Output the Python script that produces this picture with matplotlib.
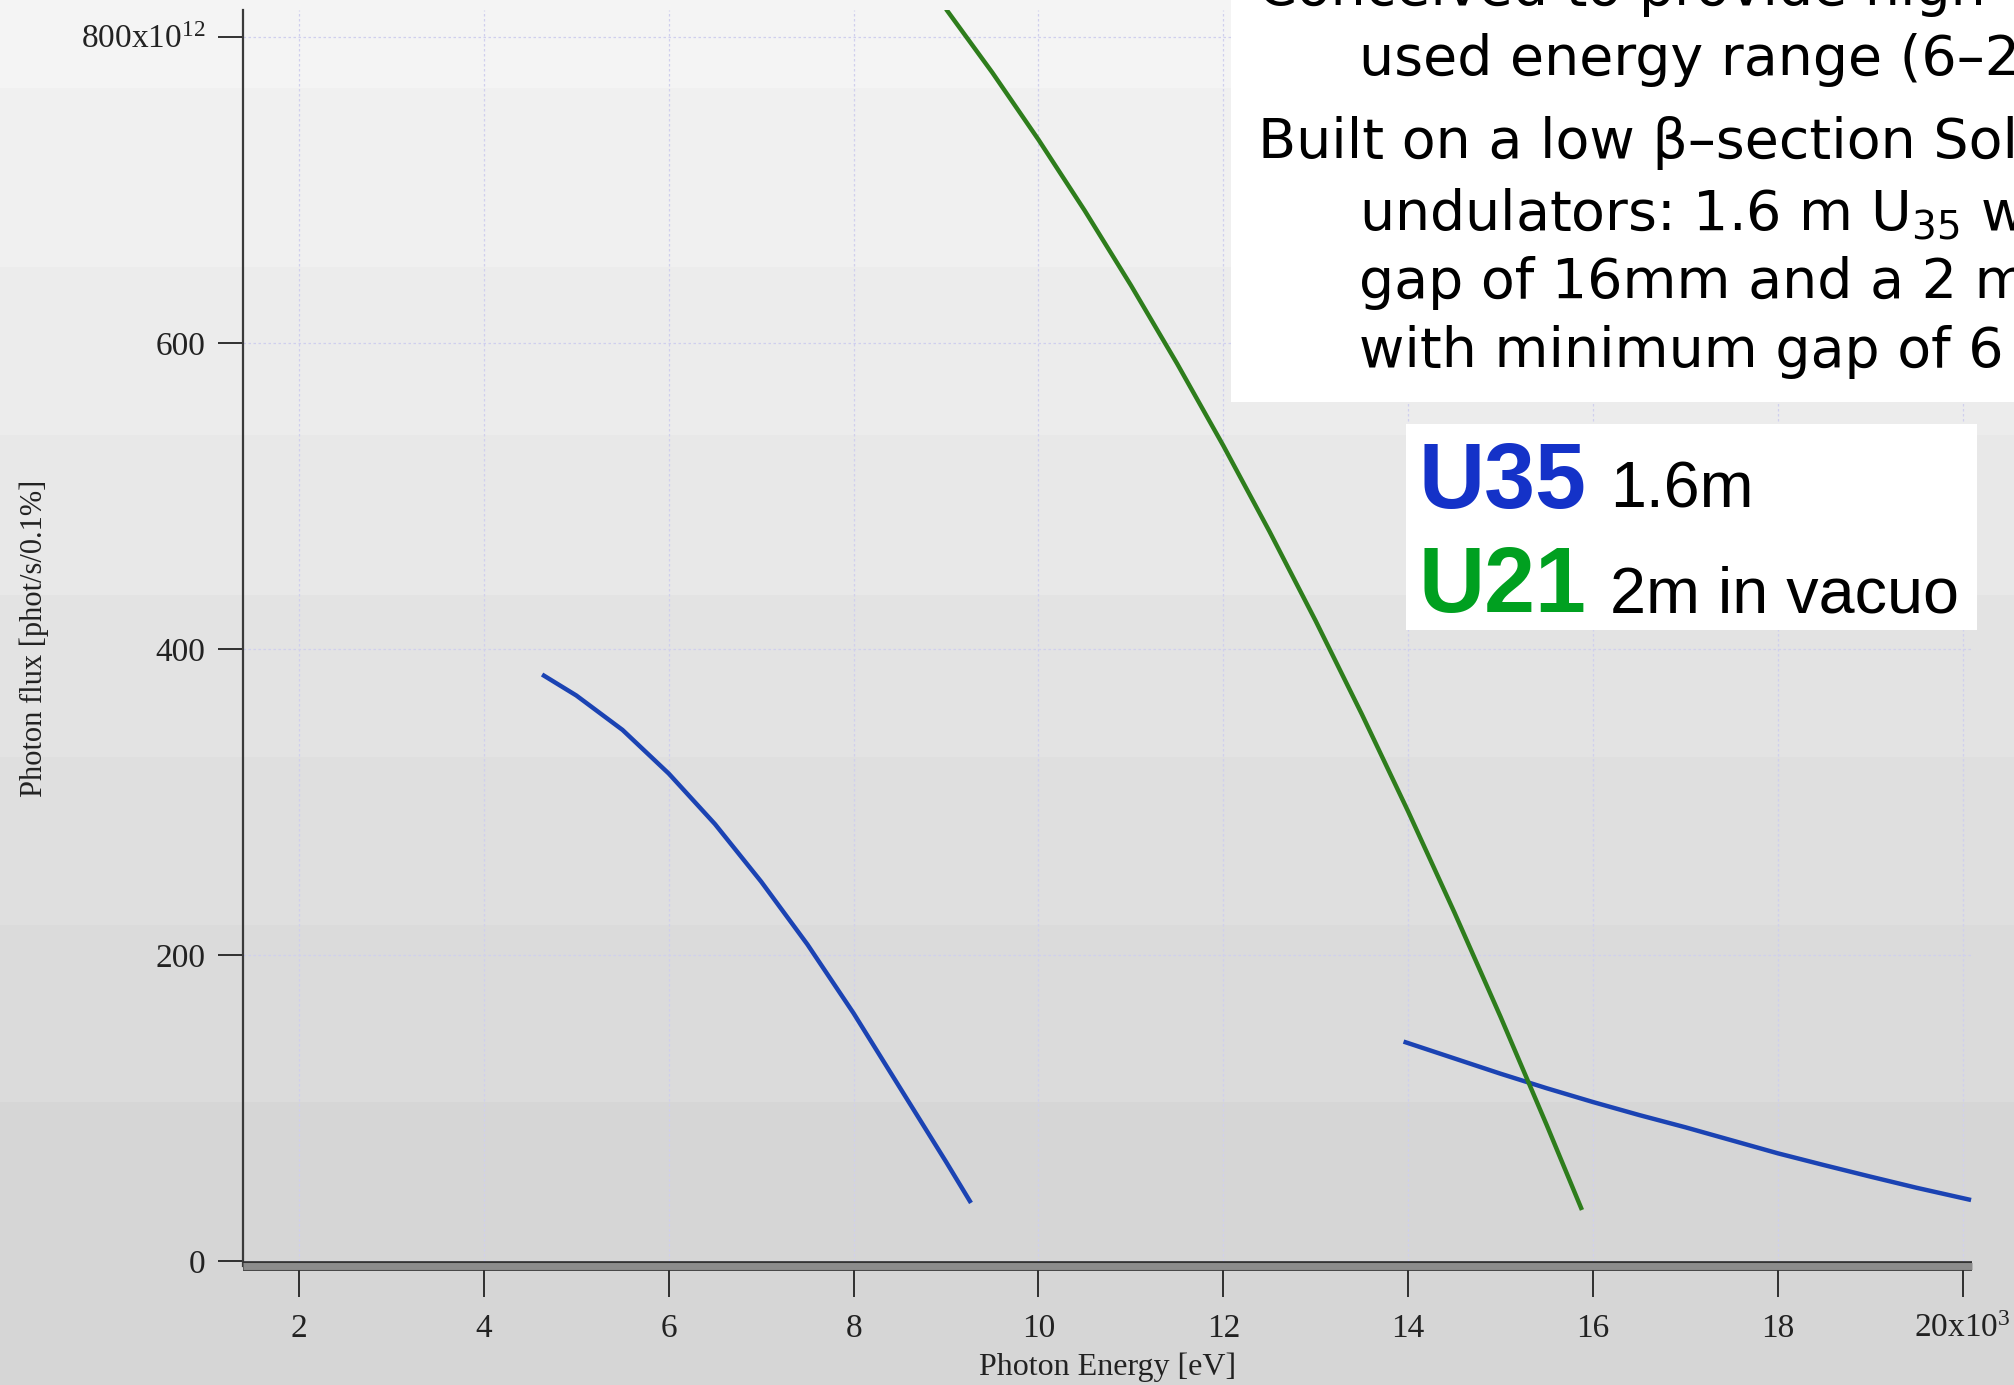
"""
Photon flux vs photon energy for the two undulators (U35 and U21),
redrawn as on the original slide.
"""
import matplotlib
matplotlib.use('Agg')
import matplotlib.pyplot as plt
import matplotlib.patheffects as pe
from matplotlib.patches import Rectangle

W, H = 2014, 1385

# --- data (x in keV, y in 1e12 phot/s/0.1%) ---
u35_low_x = [4.63, 5.0, 5.5, 6.0, 6.5, 7.0, 7.5, 8.0, 8.5, 9.0, 9.27]
u35_low_y = [383.3, 369.6, 347.1, 318.6, 285.6, 248.0, 207.0, 162.0, 113.5, 65.0, 38.1]

u35_high_x = [13.95, 14.5, 15.0, 15.5, 16.0, 16.5, 17.0, 17.5, 18.0, 18.5, 19.0, 19.5, 20.09]
u35_high_y = [143.5, 132.5, 122.5, 113.0, 104.0, 95.5, 87.5, 79.0, 70.5, 62.8, 55.3, 48.0, 40.0]

u21_x = [9.0, 9.5, 10.0, 10.5, 11.0, 11.5, 12.0, 12.5, 13.0, 13.5, 14.0, 14.5, 15.0, 15.5, 15.88]
u21_y = [818.0, 776.6, 732.7, 686.4, 637.6, 586.4, 532.8, 476.7, 418.2, 357.2, 293.8, 227.9,
         159.6, 88.8, 33.5]

x_ticks = [2, 4, 6, 8, 10, 12, 14, 16, 18, 20]
x_ticklabels = ['2', '4', '6', '8', '10', '12', '14', '16', '18', '20x10$^{3}$']
y_ticks = [0, 200, 400, 600, 800]
y_ticklabels = ['0', '200', '400', '600', '800x10$^{12}$']

# slide background bands (pixel rows from top, gray level)
band_edges = [0, 88, 267, 435, 595, 757, 925, 1102, 1385]
band_grays = [0.957, 0.941, 0.925, 0.910, 0.892, 0.875, 0.858, 0.838]

BLUE = '#1b43b3'
GREEN = '#2e7d1c'

plt.rcParams['mathtext.default'] = 'regular'


def fx(px):
    return px / W


def fy(py):
    return 1 - py / H


fig = plt.figure(figsize=(W / 100, H / 100), dpi=100)

# background
bg = fig.add_axes([0, 0, 1, 1], zorder=-10)
bg.set_xlim(0, W)
bg.set_ylim(H, 0)
bg.axis('off')
for top, bot, g in zip(band_edges[:-1], band_edges[1:], band_grays):
    bg.axhspan(top, bot, color=(g, g, g), lw=0)

# main chart
ax = fig.add_axes([fx(243), fy(1266), fx(1972) - fx(243), fy(10) - fy(1266)])
ax.set_facecolor('none')
ax.set_xlim(1.394, 20.1)
ax.set_ylim(-3.1, 817.4)

ax.plot(u35_low_x, u35_low_y, color=BLUE, lw=3.2, solid_capstyle='butt')
ax.plot(u35_high_x, u35_high_y, color=BLUE, lw=3.2, solid_capstyle='butt')
ax.plot(u21_x, u21_y, color=GREEN, lw=3.2, solid_capstyle='butt')

ax.set_xticks(x_ticks)
ax.set_xticklabels(x_ticklabels)
ax.set_yticks(y_ticks)
ax.set_yticklabels(y_ticklabels)
ax.grid(True, color='#cfcfee', lw=0.9, ls=(0, (2, 2)))
ax.set_axisbelow(True)

serif = 'Liberation Serif'
ax.tick_params(axis='x', direction='out', length=22, width=1.3, pad=12,
               labelsize=24, colors='#222222')
ax.tick_params(axis='y', direction='out', length=18, width=1.3, pad=9,
               labelsize=24, colors='#222222')
for lab in ax.get_xticklabels() + ax.get_yticklabels():
    lab.set_fontfamily(serif)

for s in ['top', 'right']:
    ax.spines[s].set_visible(False)
ax.spines['left'].set_color('#3a3a3a')
ax.spines['left'].set_linewidth(1.6)
ax.spines['bottom'].set_color('#8c8c8c')
ax.spines['bottom'].set_linewidth(5)
ax.spines['bottom'].set_capstyle('butt')
ax.spines['bottom'].set_path_effects([pe.Stroke(linewidth=7, foreground='#333333'), pe.Normal()])

ax.set_xlabel('Photon Energy [eV]', fontsize=23, fontfamily=serif, labelpad=6, color='#222222')
ax.set_ylabel('Photon flux [phot/s/0.1%]', fontsize=22, fontfamily=serif, labelpad=23, color='#222222')

# description box (runs off the slide edge, as in the original)
fig.add_artist(Rectangle((fx(1231), fy(402)), fx(2014) - fx(1231) + 0.01, fy(0) - fy(402) + 0.01,
                         transform=fig.transFigure, facecolor='white', edgecolor='none', zorder=5))
box_font = dict(fontsize=40, family=['DejaVu Sans'], color='black', va='baseline', zorder=6)
desc_lines = [
    (1258, 5, 'Conceived to provide high'),
    (1359, 75, 'used energy range (6–20'),
    (1258, 158, 'Built on a low β–section Sol'),
    (1359, 230, 'undulators: 1.6 m U$_{35}$ wi'),
    (1359, 298, 'gap of 16mm and a 2 m'),
    (1359, 367, 'with minimum gap of 6'),
]
for px, py, txt in desc_lines:
    fig.text(fx(px), fy(py), txt, **box_font)

# legend box
fig.add_artist(Rectangle((fx(1406), fy(630)), fx(1977) - fx(1406), fy(424) - fy(630),
                         transform=fig.transFigure, facecolor='white', edgecolor='none', zorder=5))
leg_entries = [
    (508, 'U35', '#1432c8', '1.6m'),
    (612, 'U21', '#00a020', '2m in vacuo'),
]
for py, name, col, desc in leg_entries:
    fig.text(fx(1419), fy(py), name, fontsize=66, fontweight='bold', family='Liberation Sans',
             color=col, va='baseline', zorder=6)
    fig.text(fx(1610), fy(py), desc, fontsize=46.5, family='Liberation Sans',
             color='black', va='baseline', zorder=6)

fig.savefig('out.png', dpi=100)
